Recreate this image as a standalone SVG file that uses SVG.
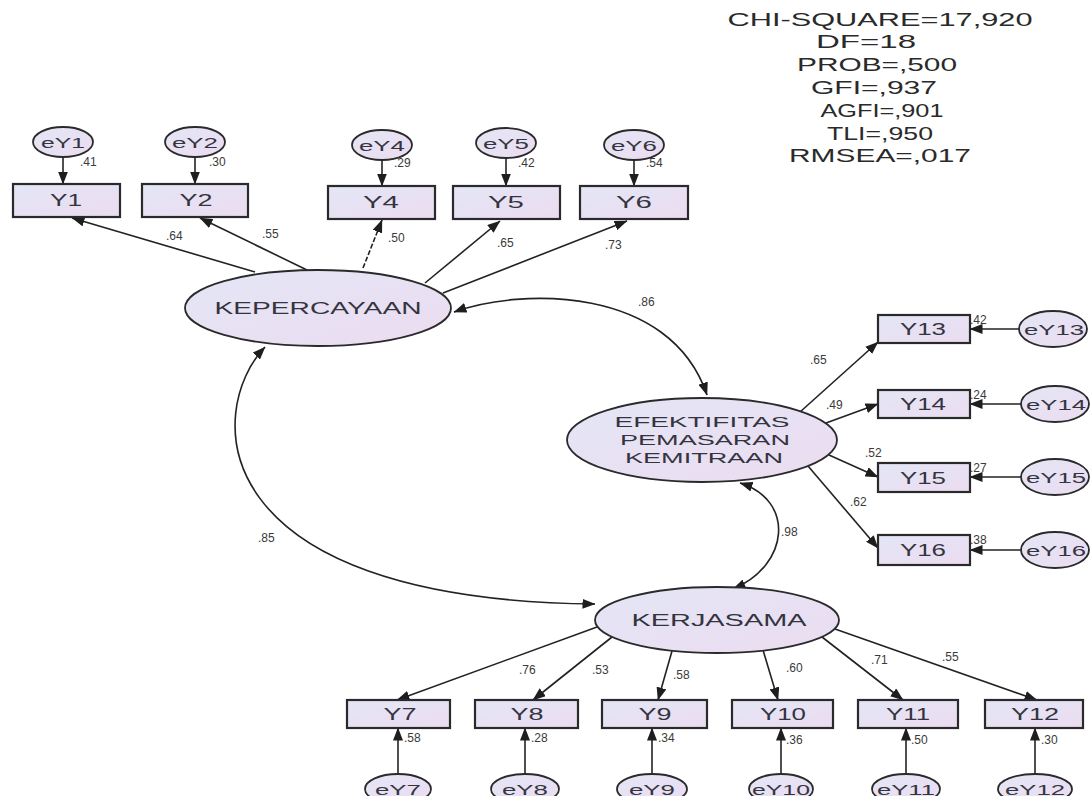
<svg xmlns="http://www.w3.org/2000/svg" width="1092" height="796" viewBox="0 0 1092 796">
<defs>
<linearGradient id="g" x1="0" y1="0" x2="1" y2="1">
<stop offset="0" stop-color="#e3e6f6"/>
<stop offset="1" stop-color="#ecdcf0"/>
</linearGradient>
<marker id="ah" viewBox="0 0 13 10" refX="12.5" refY="5" markerWidth="13" markerHeight="10" markerUnits="userSpaceOnUse" orient="auto-start-reverse">
<path d="M0,0 L13,5 L0,10 z" fill="#1e1e1e"/>
</marker>
<style>
.lat{fill:url(#g);stroke:#2a2a2a;stroke-width:1.8}
.obs{fill:url(#g);stroke:#2a2a2a;stroke-width:2.2}
.err{fill:url(#g);stroke:#2a2a2a;stroke-width:1.8}
.t{font-family:"Liberation Sans",Arial,sans-serif;fill:#34343f;text-anchor:middle}
.lbl{font-size:16px}
.el{font-size:15px}
.n{font-family:"Liberation Sans",Arial,sans-serif;fill:#3a3a3a;font-size:12px}
.fit{font-family:"Liberation Sans",Arial,sans-serif;fill:#2a2a2a;font-size:19px;text-anchor:middle}
#connectors path{stroke:#222;stroke-width:1.6;fill:none;marker-end:url(#ah)}
#connectors path.bi{marker-start:url(#ah)}
</style>
</defs>
<rect width="1092" height="796" fill="#ffffff"/>

<g id="fit-indices">
<text class="fit" x="880" y="26" textLength="305" lengthAdjust="spacingAndGlyphs">CHI-SQUARE=17,920</text>
<text class="fit" x="866" y="48" textLength="100" lengthAdjust="spacingAndGlyphs">DF=18</text>
<text class="fit" x="877" y="71" textLength="160" lengthAdjust="spacingAndGlyphs">PROB=,500</text>
<text class="fit" x="874" y="94" textLength="126" lengthAdjust="spacingAndGlyphs">GFI=,937</text>
<text class="fit" x="882" y="117" textLength="123" lengthAdjust="spacingAndGlyphs">AGFI=,901</text>
<text class="fit" x="880" y="140" textLength="106" lengthAdjust="spacingAndGlyphs">TLI=,950</text>
<text class="fit" x="880" y="162" textLength="182" lengthAdjust="spacingAndGlyphs">RMSEA=,017</text>
</g>

<g id="connectors">
<!-- error to indicator -->
<path d="M63,157 L63,184"/>
<path d="M195,157 L195,184"/>
<path d="M382,160 L382,186"/>
<path d="M506,158 L506,186"/>
<path d="M634,160 L634,186"/>
<path d="M1019,329 L970,329"/>
<path d="M1021,404 L970,404"/>
<path d="M1021,477 L970,477"/>
<path d="M1021,550 L970,550"/>
<path d="M398,774 L398,728"/>
<path d="M525,774 L525,728"/>
<path d="M652,774 L652,728"/>
<path d="M781,774 L781,728"/>
<path d="M906,774 L906,728"/>
<path d="M1035,774 L1035,728"/>
<!-- loadings KEPERCAYAAN -->
<path d="M255,272 L72,218"/>
<path d="M307,270 L200,218"/>
<path d="M363,268 L382,220" stroke-dasharray="5,2"/>
<path d="M425,283 L500,221"/>
<path d="M443,293 L627,221"/>
<!-- loadings EFEKTIFITAS -->
<path d="M800,412 L878,342"/>
<path d="M826,423 L878,404"/>
<path d="M829,455 L878,477"/>
<path d="M808,466 L878,548"/>
<!-- loadings KERJASAMA -->
<path d="M597,627 L397,700"/>
<path d="M612,637 L533,700"/>
<path d="M672,651 L658,700"/>
<path d="M763,650 L778,700"/>
<path d="M822,637 L903,700"/>
<path d="M835,629 L1037,700"/>
<!-- covariances -->
<path class="bi" d="M454,312 C520,288 670,285 707,395"/>
<path class="bi" d="M265,347 C205,410 200,600 595,604"/>
<path class="bi" d="M740,483 C795,500 790,565 733,589"/>
</g>

<g id="labels">
<text class="n" x="80" y="166">.41</text>
<text class="n" x="209" y="166">.30</text>
<text class="n" x="394" y="167">.29</text>
<text class="n" x="518" y="167">.42</text>
<text class="n" x="646" y="167">.54</text>
<text class="n" x="166" y="240">.64</text>
<text class="n" x="262" y="238">.55</text>
<text class="n" x="388" y="242">.50</text>
<text class="n" x="497" y="247">.65</text>
<text class="n" x="605" y="249">.73</text>
<text class="n" x="638" y="306">.86</text>
<text class="n" x="810" y="364">.65</text>
<text class="n" x="826" y="409">.49</text>
<text class="n" x="865" y="457">.52</text>
<text class="n" x="850" y="506">.62</text>
<text class="n" x="970" y="324">.42</text>
<text class="n" x="970" y="399">.24</text>
<text class="n" x="970" y="472">.27</text>
<text class="n" x="970" y="544">.38</text>
<text class="n" x="258" y="542">.85</text>
<text class="n" x="781" y="536">.98</text>
<text class="n" x="519" y="674">.76</text>
<text class="n" x="592" y="674">.53</text>
<text class="n" x="673" y="679">.58</text>
<text class="n" x="786" y="672">.60</text>
<text class="n" x="871" y="664">.71</text>
<text class="n" x="942" y="661">.55</text>
<text class="n" x="404" y="742">.58</text>
<text class="n" x="531" y="742">.28</text>
<text class="n" x="658" y="742">.34</text>
<text class="n" x="786" y="744">.36</text>
<text class="n" x="911" y="744">.50</text>
<text class="n" x="1041" y="744">.30</text>
</g>

<!-- latent variables -->
<g id="KEPERCAYAAN">
<ellipse class="lat" cx="318" cy="308" rx="133" ry="38"/>
<text class="t" x="318" y="314" font-size="17" textLength="207" lengthAdjust="spacingAndGlyphs">KEPERCAYAAN</text>
</g>
<g id="EFEKTIFITAS">
<ellipse class="lat" cx="702" cy="440" rx="135" ry="42"/>
<text class="t" x="702" y="427" font-size="14" textLength="175" lengthAdjust="spacingAndGlyphs">EFEKTIFITAS</text>
<text class="t" x="705" y="445" font-size="14" textLength="170" lengthAdjust="spacingAndGlyphs">PEMASARAN</text>
<text class="t" x="704" y="463" font-size="14" textLength="158" lengthAdjust="spacingAndGlyphs">KEMITRAAN</text>
</g>
<g id="KERJASAMA">
<ellipse class="lat" cx="717" cy="620" rx="122" ry="33"/>
<text class="t" x="719" y="626" font-size="16" textLength="175" lengthAdjust="spacingAndGlyphs">KERJASAMA</text>
</g>

<!-- observed: top -->
<g id="Y1"><rect class="obs" x="13" y="184" width="107" height="33"/><text class="t lbl" x="66" y="206" textLength="32" lengthAdjust="spacingAndGlyphs">Y1</text></g>
<g id="Y2"><rect class="obs" x="142" y="184" width="106" height="33"/><text class="t lbl" x="196" y="206" textLength="33" lengthAdjust="spacingAndGlyphs">Y2</text></g>
<g id="Y4"><rect class="obs" x="328" y="186" width="107" height="33"/><text class="t lbl" x="381" y="208" textLength="36" lengthAdjust="spacingAndGlyphs">Y4</text></g>
<g id="Y5"><rect class="obs" x="453" y="186" width="107" height="33"/><text class="t lbl" x="506" y="208" textLength="36" lengthAdjust="spacingAndGlyphs">Y5</text></g>
<g id="Y6"><rect class="obs" x="580" y="186" width="108" height="33"/><text class="t lbl" x="634" y="208" textLength="36" lengthAdjust="spacingAndGlyphs">Y6</text></g>

<!-- observed: right -->
<g id="Y13"><rect class="obs" x="878" y="315" width="92" height="28"/><text class="t lbl" x="923" y="335" textLength="46" lengthAdjust="spacingAndGlyphs">Y13</text></g>
<g id="Y14"><rect class="obs" x="878" y="390" width="92" height="28"/><text class="t lbl" x="923" y="410" textLength="46" lengthAdjust="spacingAndGlyphs">Y14</text></g>
<g id="Y15"><rect class="obs" x="878" y="463" width="92" height="29"/><text class="t lbl" x="923" y="484" textLength="46" lengthAdjust="spacingAndGlyphs">Y15</text></g>
<g id="Y16"><rect class="obs" x="878" y="535" width="92" height="30"/><text class="t lbl" x="923" y="556" textLength="46" lengthAdjust="spacingAndGlyphs">Y16</text></g>

<!-- observed: bottom -->
<g id="Y7"><rect class="obs" x="347" y="700" width="103" height="28"/><text class="t lbl" x="400" y="720" textLength="33" lengthAdjust="spacingAndGlyphs">Y7</text></g>
<g id="Y8"><rect class="obs" x="475" y="700" width="103" height="28"/><text class="t lbl" x="527" y="720" textLength="33" lengthAdjust="spacingAndGlyphs">Y8</text></g>
<g id="Y9"><rect class="obs" x="602" y="700" width="105" height="28"/><text class="t lbl" x="655" y="720" textLength="33" lengthAdjust="spacingAndGlyphs">Y9</text></g>
<g id="Y10"><rect class="obs" x="732" y="700" width="101" height="28"/><text class="t lbl" x="783" y="720" textLength="46" lengthAdjust="spacingAndGlyphs">Y10</text></g>
<g id="Y11"><rect class="obs" x="858" y="700" width="100" height="28"/><text class="t lbl" x="908" y="720" textLength="44" lengthAdjust="spacingAndGlyphs">Y11</text></g>
<g id="Y12"><rect class="obs" x="985" y="700" width="98" height="28"/><text class="t lbl" x="1035" y="720" textLength="48" lengthAdjust="spacingAndGlyphs">Y12</text></g>

<!-- errors: top -->
<g id="eY1"><ellipse class="err" cx="63" cy="142" rx="30" ry="15"/><text class="t el" x="63" y="148" textLength="44" lengthAdjust="spacingAndGlyphs">eY1</text></g>
<g id="eY2"><ellipse class="err" cx="195" cy="142" rx="30" ry="15"/><text class="t el" x="195" y="148" textLength="46" lengthAdjust="spacingAndGlyphs">eY2</text></g>
<g id="eY4"><ellipse class="err" cx="382" cy="145" rx="30" ry="15"/><text class="t el" x="382" y="151" textLength="46" lengthAdjust="spacingAndGlyphs">eY4</text></g>
<g id="eY5"><ellipse class="err" cx="506" cy="143" rx="30" ry="15"/><text class="t el" x="506" y="149" textLength="46" lengthAdjust="spacingAndGlyphs">eY5</text></g>
<g id="eY6"><ellipse class="err" cx="634" cy="145" rx="30" ry="15"/><text class="t el" x="634" y="151" textLength="46" lengthAdjust="spacingAndGlyphs">eY6</text></g>

<!-- errors: right -->
<g id="eY13"><ellipse class="err" cx="1053" cy="329" rx="34" ry="18"/><text class="t el" x="1054" y="335" textLength="60" lengthAdjust="spacingAndGlyphs">eY13</text></g>
<g id="eY14"><ellipse class="err" cx="1055" cy="404" rx="34" ry="18"/><text class="t el" x="1056" y="410" textLength="60" lengthAdjust="spacingAndGlyphs">eY14</text></g>
<g id="eY15"><ellipse class="err" cx="1055" cy="477" rx="34" ry="18"/><text class="t el" x="1056" y="483" textLength="60" lengthAdjust="spacingAndGlyphs">eY15</text></g>
<g id="eY16"><ellipse class="err" cx="1055" cy="550" rx="34" ry="18"/><text class="t el" x="1056" y="556" textLength="60" lengthAdjust="spacingAndGlyphs">eY16</text></g>

<!-- errors: bottom -->
<g id="eY7"><ellipse class="err" cx="398" cy="789" rx="33" ry="15"/><text class="t el" x="398" y="795" textLength="46" lengthAdjust="spacingAndGlyphs">eY7</text></g>
<g id="eY8"><ellipse class="err" cx="525" cy="789" rx="34" ry="15"/><text class="t el" x="525" y="795" textLength="46" lengthAdjust="spacingAndGlyphs">eY8</text></g>
<g id="eY9"><ellipse class="err" cx="652" cy="789" rx="35" ry="15"/><text class="t el" x="652" y="795" textLength="46" lengthAdjust="spacingAndGlyphs">eY9</text></g>
<g id="eY10"><ellipse class="err" cx="781" cy="789" rx="32" ry="15"/><text class="t el" x="781" y="795" textLength="58" lengthAdjust="spacingAndGlyphs">eY10</text></g>
<g id="eY11"><ellipse class="err" cx="906" cy="789" rx="34" ry="15"/><text class="t el" x="906" y="795" textLength="58" lengthAdjust="spacingAndGlyphs">eY11</text></g>
<g id="eY12"><ellipse class="err" cx="1035" cy="789" rx="37" ry="15"/><text class="t el" x="1035" y="795" textLength="60" lengthAdjust="spacingAndGlyphs">eY12</text></g>
</svg>
